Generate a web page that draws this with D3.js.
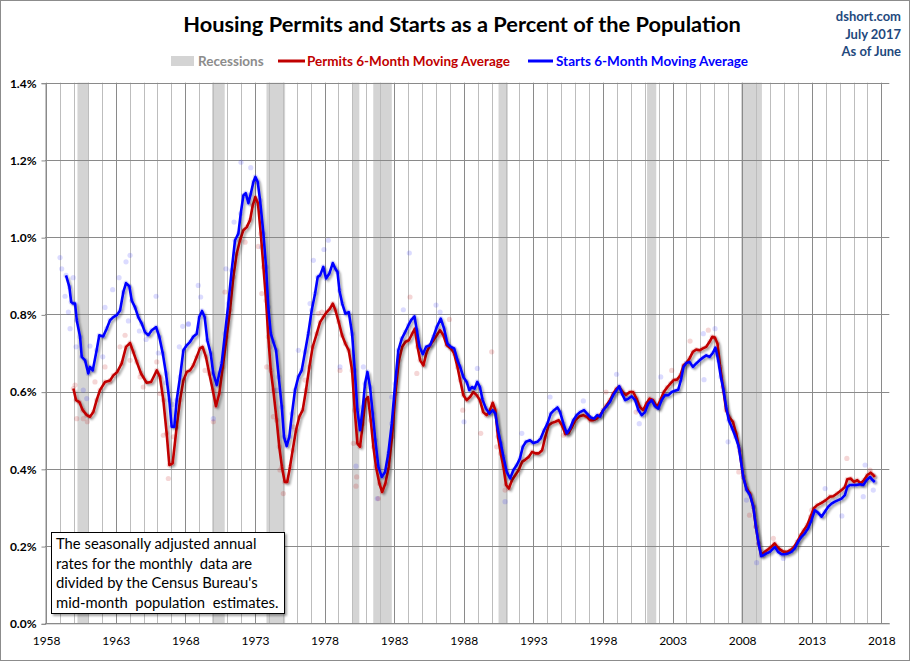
<!DOCTYPE html>
<html>
<head>
<meta charset="utf-8">
<script src="https://d3js.org/d3.v7.min.js"></script>
<style>
  body { margin: 0; background: #fff; }
  svg { display: block; font-family: Lato, "Open Sans", sans-serif; }
</style>
</head>
<body>
<div id="chart"></div>
<script>
// 6-month moving averages, [year, percent of population]
var permitsMA = [
  [1959.96,0.608],[1960.15,0.578],[1960.39,0.573],[1960.63,0.552],[1960.92,0.539],[1961.15,0.535],[1961.39,0.547],[1961.63,0.578],[1961.87,0.604],[1962.23,0.625],[1962.59,0.629],[1962.83,0.642],[1963.11,0.651],[1963.43,0.673],[1963.74,0.716],[1964.03,0.726],[1964.26,0.703],[1964.51,0.677],[1964.82,0.647],[1965.22,0.623],[1965.54,0.625],[1965.95,0.655],[1966.18,0.638],[1966.42,0.578],[1966.66,0.492],[1966.85,0.41],[1967.09,0.414],[1967.38,0.509],[1967.62,0.578],[1967.86,0.629],
  [1968.1,0.651],[1968.34,0.655],[1968.57,0.668],[1968.82,0.69],[1969.05,0.712],[1969.24,0.716],[1969.48,0.69],[1969.72,0.647],[1969.97,0.604],[1970.2,0.562],[1970.44,0.595],[1970.69,0.664],[1970.97,0.742],[1971.21,0.811],[1971.45,0.897],[1971.69,0.957],[1971.93,0.992],[1972.17,1.018],[1972.41,1.026],[1972.65,1.044],[1972.84,1.082],[1973.03,1.104],[1973.22,1.087],[1973.42,1.009],[1973.61,0.923],[1973.8,0.836],[1973.96,0.742],[1974.14,0.655],[1974.32,0.604],[1974.56,0.526],[1974.75,0.457],[1974.94,0.405],[1975.14,0.366],[1975.32,0.366],[1975.52,0.405],[1975.71,0.448],[1975.95,0.5],[1976.19,0.535],[1976.43,0.552],[1976.67,0.604],[1976.91,0.664],[1977.15,0.716],[1977.44,0.75],
  [1977.68,0.78],[1977.91,0.793],[1978.16,0.806],[1978.39,0.815],[1978.59,0.828],[1978.78,0.811],[1979.02,0.78],[1979.26,0.746],[1979.5,0.724],[1979.74,0.707],[1979.98,0.655],[1980.17,0.552],[1980.36,0.466],[1980.55,0.457],[1980.75,0.517],[1980.93,0.578],[1981.12,0.586],[1981.32,0.526],[1981.51,0.457],[1981.7,0.405],[1981.94,0.362],[1982.14,0.34],[1982.37,0.362],[1982.61,0.405],[1982.85,0.483],[1983.09,0.595],[1983.34,0.681],[1983.58,0.716],[1983.82,0.729],[1984.06,0.733],[1984.3,0.75],[1984.49,0.763],[1984.68,0.716],[1984.87,0.681],[1985.1,0.668],[1985.34,0.703],[1985.58,0.72],[1985.82,0.733],[1986.06,0.746],[1986.3,0.759],[1986.54,0.746],[1986.78,0.72],[1987.07,0.712],[1987.31,0.699],[1987.55,0.664],
  [1987.74,0.63],[1987.97,0.591],[1988.21,0.578],[1988.45,0.586],[1988.69,0.599],[1988.93,0.591],[1989.16,0.578],[1989.4,0.547],[1989.64,0.539],[1989.88,0.552],[1990.08,0.571],[1990.27,0.552],[1990.46,0.483],[1990.66,0.44],[1990.85,0.405],[1991.04,0.358],[1991.24,0.349],[1991.47,0.371],[1991.71,0.384],[1991.95,0.397],[1992.19,0.418],[1992.43,0.424],[1992.67,0.431],[1992.91,0.444],[1993.15,0.44],[1993.39,0.44],[1993.63,0.448],[1993.86,0.483],[1994.1,0.513],[1994.34,0.519],[1994.58,0.522],[1994.82,0.526],[1995.06,0.513],[1995.3,0.49],[1995.54,0.493],[1995.78,0.509],[1996.02,0.526],[1996.3,0.536],[1996.59,0.539],[1996.83,0.535],[1997.07,0.526],[1997.31,0.526],[1997.55,0.53],
  [1997.79,0.539],[1998.02,0.552],[1998.26,0.565],[1998.5,0.578],[1998.74,0.595],[1998.98,0.608],[1999.17,0.612],[1999.41,0.599],[1999.65,0.591],[1999.93,0.599],[2000.17,0.599],[2000.41,0.582],[2000.65,0.56],[2000.89,0.552],[2001.12,0.569],[2001.36,0.582],[2001.6,0.578],[2001.89,0.56],[2002.13,0.578],[2002.37,0.599],[2002.61,0.611],[2002.85,0.621],[2003.08,0.63],[2003.32,0.631],[2003.56,0.642],[2003.79,0.668],[2003.99,0.674],[2004.22,0.686],[2004.46,0.703],[2004.7,0.709],[2004.94,0.707],[2005.18,0.712],[2005.42,0.716],[2005.66,0.729],[2005.85,0.742],[2006.04,0.74],[2006.23,0.724],[2006.42,0.664],[2006.62,0.612],[2006.85,0.552],[2007.09,0.533],[2007.33,0.522],[2007.57,0.492],[2007.81,0.448],
  [2008.08,0.379],[2008.32,0.349],[2008.56,0.336],[2008.8,0.302],[2008.99,0.25],[2009.18,0.207],[2009.37,0.177],[2009.61,0.185],[2009.85,0.191],[2010.09,0.198],[2010.33,0.207],[2010.51,0.198],[2010.76,0.19],[2010.99,0.185],[2011.23,0.185],[2011.48,0.19],[2011.71,0.197],[2011.95,0.211],[2012.2,0.228],[2012.43,0.241],[2012.67,0.254],[2012.91,0.276],[2013.15,0.298],[2013.39,0.306],[2013.7,0.312],[2014.01,0.319],[2014.3,0.328],[2014.54,0.329],[2014.82,0.336],[2015.14,0.345],[2015.38,0.353],[2015.55,0.373],[2015.79,0.375],[2016.03,0.366],[2016.27,0.371],[2016.51,0.362],[2016.75,0.371],[2016.99,0.384],[2017.23,0.39],[2017.42,0.384],[2017.53,0.379]
];

var startsMA = [
  [1959.43,0.901],[1959.67,0.871],[1959.8,0.832],[1959.96,0.828],[1960.08,0.828],[1960.2,0.785],[1960.44,0.742],[1960.56,0.69],[1960.8,0.681],[1961.03,0.647],[1961.15,0.664],[1961.35,0.655],[1961.63,0.707],[1961.82,0.746],[1962.1,0.743],[1962.35,0.763],[1962.59,0.785],[1962.83,0.793],[1963.07,0.798],[1963.31,0.81],[1963.55,0.858],[1963.74,0.881],[1963.98,0.873],[1964.15,0.836],[1964.39,0.818],[1964.62,0.793],[1964.87,0.776],[1965.1,0.754],[1965.34,0.746],[1965.59,0.759],[1965.9,0.767],[1966.13,0.742],[1966.38,0.699],[1966.61,0.647],[1966.85,0.578],[1967.02,0.509],[1967.21,0.509],[1967.38,0.578],[1967.62,0.638],[1967.86,0.707],
  [1968.1,0.72],[1968.34,0.729],[1968.57,0.742],[1968.82,0.75],[1969.0,0.793],[1969.2,0.809],[1969.39,0.793],[1969.58,0.733],[1969.82,0.699],[1970.01,0.647],[1970.26,0.617],[1970.44,0.647],[1970.61,0.673],[1970.85,0.75],[1971.09,0.828],[1971.33,0.914],[1971.57,0.992],[1971.81,1.009],[1971.98,1.061],[1972.17,1.108],[1972.34,1.114],[1972.53,1.088],[1972.7,1.112],[1972.89,1.143],[1973.03,1.156],[1973.2,1.143],[1973.37,1.095],[1973.61,1.009],[1973.8,0.923],[1973.96,0.819],[1974.14,0.75],[1974.32,0.729],[1974.52,0.707],[1974.71,0.638],[1974.93,0.56],[1975.09,0.483],[1975.28,0.459],[1975.47,0.483],[1975.66,0.543],[1975.88,0.604],[1976.12,0.638],[1976.36,0.655],[1976.6,0.703],[1976.83,0.75],[1977.08,0.811],[1977.32,0.854],[1977.51,0.897],
  [1977.68,0.901],[1977.91,0.923],[1978.11,0.893],[1978.35,0.906],[1978.59,0.933],[1978.78,0.918],[1978.93,0.91],[1979.07,0.862],[1979.27,0.828],[1979.5,0.802],[1979.74,0.806],[1979.98,0.75],[1980.17,0.655],[1980.36,0.552],[1980.55,0.5],[1980.75,0.56],[1980.91,0.621],[1981.08,0.651],[1981.27,0.612],[1981.46,0.543],[1981.65,0.474],[1981.87,0.405],[1982.11,0.379],[1982.35,0.392],[1982.58,0.44],[1982.83,0.517],[1983.07,0.621],[1983.3,0.707],[1983.55,0.737],[1983.79,0.754],[1984.03,0.772],[1984.22,0.785],[1984.46,0.795],[1984.63,0.759],[1984.82,0.716],[1985.06,0.697],[1985.3,0.716],[1985.58,0.72],[1985.82,0.742],[1986.06,0.767],[1986.35,0.789],[1986.59,0.763],[1986.83,0.724],[1987.07,0.716],[1987.31,0.712],[1987.55,0.681],
  [1987.74,0.664],[1987.97,0.638],[1988.21,0.625],[1988.4,0.604],[1988.59,0.612],[1988.78,0.608],[1988.97,0.625],[1989.16,0.612],[1989.36,0.578],[1989.6,0.556],[1989.84,0.543],[1990.08,0.552],[1990.27,0.543],[1990.46,0.5],[1990.66,0.466],[1990.85,0.431],[1991.09,0.392],[1991.33,0.375],[1991.57,0.397],[1991.81,0.41],[1992.04,0.427],[1992.24,0.457],[1992.47,0.47],[1992.76,0.474],[1993.0,0.467],[1993.29,0.47],[1993.53,0.479],[1993.77,0.5],[1994.01,0.517],[1994.25,0.543],[1994.49,0.552],[1994.73,0.559],[1994.92,0.547],[1995.16,0.517],[1995.4,0.492],[1995.64,0.505],[1995.87,0.526],[1996.11,0.539],[1996.35,0.547],[1996.64,0.552],[1996.88,0.542],[1997.12,0.533],[1997.36,0.53],[1997.59,0.539],
  [1997.79,0.535],[1998.02,0.552],[1998.26,0.562],[1998.5,0.573],[1998.74,0.591],[1998.98,0.604],[1999.17,0.614],[1999.36,0.595],[1999.6,0.578],[1999.84,0.582],[2000.07,0.588],[2000.31,0.578],[2000.55,0.552],[2000.79,0.539],[2001.02,0.547],[2001.26,0.569],[2001.5,0.578],[2001.74,0.562],[2001.98,0.556],[2002.22,0.578],[2002.46,0.591],[2002.7,0.591],[2002.94,0.599],[2003.17,0.602],[2003.41,0.605],[2003.6,0.63],[2003.79,0.664],[2003.99,0.674],[2004.22,0.677],[2004.46,0.664],[2004.7,0.673],[2004.94,0.681],[2005.18,0.688],[2005.42,0.694],[2005.66,0.69],[2005.89,0.7],[2006.08,0.714],[2006.28,0.681],[2006.47,0.638],[2006.66,0.604],[2006.85,0.56],[2007.04,0.526],[2007.28,0.505],[2007.52,0.483],[2007.76,0.457],
  [2008.08,0.379],[2008.32,0.345],[2008.56,0.332],[2008.8,0.302],[2008.99,0.25],[2009.18,0.207],[2009.37,0.174],[2009.56,0.177],[2009.75,0.181],[2009.99,0.185],[2010.23,0.194],[2010.37,0.197],[2010.58,0.185],[2010.83,0.179],[2011.06,0.179],[2011.3,0.181],[2011.54,0.185],[2011.78,0.194],[2012.02,0.211],[2012.26,0.224],[2012.5,0.233],[2012.74,0.246],[2012.98,0.267],[2013.22,0.293],[2013.46,0.286],[2013.7,0.276],[2013.94,0.289],[2014.18,0.302],[2014.42,0.31],[2014.66,0.315],[2014.9,0.319],[2015.14,0.323],[2015.38,0.332],[2015.55,0.353],[2015.74,0.358],[2015.98,0.358],[2016.22,0.358],[2016.46,0.36],[2016.7,0.358],[2016.94,0.371],[2017.18,0.379],[2017.37,0.371],[2017.53,0.366]
];

// monthly readings that stray from the averages
var permitsMonthly = [
  [1960.08,0.617],[1960.2,0.53],[1960.67,0.53],[1960.96,0.522],[1961.51,0.625],[1962.23,0.664],[1962.59,0.625],[1963.31,0.716],[1963.67,0.746],[1964.03,0.681],[1964.75,0.638],[1964.98,0.612],[1965.95,0.677],[1966.18,0.595],[1966.42,0.487],[1966.78,0.375],[1967.14,0.483],
  [1969.42,0.655],[1970.01,0.522],[1970.85,0.858],[1972.29,0.987],[1973.24,0.976],[1973.49,0.854],[1973.85,0.664],[1974.32,0.535],[1974.8,0.397],[1975.04,0.336],[1975.76,0.509],[1976.6,0.63],[1977.56,0.802],[1977.8,0.806],
  [1984.14,0.845],[1980.07,0.466],[1980.31,0.379],[1980.26,0.355],[1981.87,0.323],[1979.11,0.655],[1984.63,0.647],[1987.93,0.552],[1986.97,0.787],
  [1990.01,0.703],[1990.97,0.345],[1989.22,0.492],[1990.37,0.457],[1995.16,0.487],[1998.22,0.599],
  [2004.26,0.731],[2005.57,0.759],[2002.94,0.655],[2000.38,0.547],[2007.76,0.392],[2008.53,0.28],
  [2015.52,0.427],[2010.24,0.22],[2017.19,0.397],[2013.0,0.293]
];

var startsMonthly = [
  [1959.0,0.947],[1959.12,0.918],[1959.36,0.847],[1959.6,0.806],[1959.72,0.763],[1959.95,0.895],[1960.15,0.716],[1960.67,0.604],[1960.92,0.582],[1961.15,0.718],[1962.07,0.69],[1962.23,0.818],[1962.78,0.864],[1963.24,0.895],[1963.74,0.936],[1964.03,0.953],[1963.91,0.783],[1964.7,0.757],[1965.18,0.735],[1965.9,0.847],[1966.06,0.7],[1966.61,0.623],[1967.09,0.567],[1967.57,0.716],[1967.81,0.769],[1968.22,0.774],
  [1968.22,0.776],[1968.93,0.875],[1969.1,0.845],[1970.01,0.53],[1970.92,0.918],[1971.5,1.039],[1972.0,1.194],[1972.7,1.18],[1973.49,0.974],[1974.09,0.716],[1974.57,0.604],[1975.23,0.474],[1976.12,0.707],[1976.96,0.828],[1977.2,0.94],[1977.96,0.968],[1978.27,0.992],
  [1984.09,0.959],[1983.66,0.812],[1986.01,0.824],[1986.3,0.806],[1980.79,0.664],[1980.26,0.407],[1982.83,0.586],[1981.79,0.323],[1988.02,0.522],[1979.11,0.664],
  [1990.97,0.315],[1992.17,0.492],[1994.2,0.586],[1996.59,0.576],[1988.98,0.66],
  [1998.98,0.645],[2000.61,0.517],[2002.15,0.638],[2005.21,0.75],[2006.05,0.763],[2005.26,0.631],[2006.99,0.47],[2008.31,0.319],
  [2009.04,0.157],[2010.96,0.168],[2013.96,0.349],[2015.16,0.278],[2016.83,0.41],[2016.7,0.328],[2017.42,0.345]
];

// NBER recessions, [start, end] in years
var recessions = [
  [1960.25,1961.08],[1969.92,1970.83],[1973.83,1975.17],[1980.0,1980.5],
  [1981.5,1982.83],[1990.5,1991.17],[2001.17,2001.83],[2007.92,2009.42]
];

var yTicks = [0, 0.2, 0.4, 0.6, 0.8, 1.0, 1.2, 1.4];
var xTickYears = [1958, 1963, 1968, 1973, 1978, 1983, 1988, 1993, 1998, 2003, 2008, 2013, 2018];

var noteLines = [
  "The seasonally adjusted annual",
  "rates for the monthly  data are",
  "divided by the Census Bureau's",
  "mid-month  population  estimates."
];

var svgWidth = 910;
var svgHeight = 661;

var plot = { left: 45, right: 889.3, top: 82.7, bottom: 623.3 };

var svg = d3.select("#chart")
  .append("svg")
  .attr("width", svgWidth)
  .attr("height", svgHeight);

var defs = svg.append("defs");
var shadow = defs.append("filter")
  .attr("id", "shadow")
  .attr("x", "-5%").attr("y", "-5%")
  .attr("width", "110%").attr("height", "110%");
shadow.append("feDropShadow")
  .attr("dx", 2).attr("dy", 2)
  .attr("stdDeviation", 1.3)
  .attr("flood-color", "#000")
  .attr("flood-opacity", 0.35);

// outer frame
svg.append("rect")
  .attr("x", 0.5).attr("y", 0.5)
  .attr("width", svgWidth - 1).attr("height", svgHeight - 1)
  .attr("fill", "#fff")
  .attr("stroke", "#8c8c8c");

var xScale = d3.scaleLinear()
  .domain([1957.92, 2018.57])
  .range([plot.left, plot.right]);

var yScale = d3.scaleLinear()
  .domain([0, 1.4])
  .range([plot.bottom, plot.top]);

// recession bands
svg.append("g").selectAll("rect")
  .data(recessions)
  .enter()
  .append("rect")
  .attr("x", d => xScale(d[0]))
  .attr("y", plot.top)
  .attr("width", d => xScale(d[1]) - xScale(d[0]))
  .attr("height", plot.bottom - plot.top)
  .attr("fill", "#d4d4d4");

// vertical year gridlines
var years = d3.range(1958, 2019);
svg.append("g").selectAll("line")
  .data(years)
  .enter()
  .append("line")
  .attr("x1", d => Math.round(xScale(d)) + 0.5)
  .attr("x2", d => Math.round(xScale(d)) + 0.5)
  .attr("y1", plot.top)
  .attr("y2", plot.bottom)
  .attr("stroke", d => (d - 1958) % 5 === 0 ? "#8a8a8a" : "#bdbdbd")
  .attr("stroke-width", 1);

// horizontal gridlines
svg.append("g").selectAll("line")
  .data(yTicks)
  .enter()
  .append("line")
  .attr("x1", plot.left)
  .attr("x2", plot.right)
  .attr("y1", d => Math.round(yScale(d)) + 0.5)
  .attr("y2", d => Math.round(yScale(d)) + 0.5)
  .attr("stroke", "#8a8a8a");

// y axis
var yAxis = d3.axisLeft(yScale)
  .tickValues(yTicks)
  .tickSize(4)
  .tickPadding(5)
  .tickFormat(d => d.toFixed(1) + "%");

var yAxisG = svg.append("g")
  .attr("transform", `translate(${plot.left + 0.5}, 0.5)`)
  .call(yAxis);
yAxisG.select(".domain").attr("stroke", "#8a8a8a");
yAxisG.selectAll(".tick line").attr("stroke", "#8a8a8a");
yAxisG.selectAll("text")
  .attr("font-family", "Lato, sans-serif")
  .attr("font-size", "12px")
  .attr("font-weight", "bold")
  .attr("fill", "#000");

// x axis
var xAxis = d3.axisBottom(xScale)
  .tickValues(xTickYears)
  .tickSize(0)
  .tickPadding(13)
  .tickFormat(d3.format("d"));

var xAxisG = svg.append("g")
  .attr("transform", `translate(0, ${plot.bottom})`)
  .call(xAxis);
xAxisG.select(".domain").attr("stroke", "#8a8a8a");
xAxisG.selectAll("text")
  .attr("font-family", "Lato, sans-serif")
  .attr("font-size", "12px")
  .attr("fill", "#000");

// monthly dots
var dotGroup = svg.append("g");
dotGroup.selectAll(".pdot")
  .data(permitsMonthly.concat(permitsMA))
  .enter()
  .append("circle")
  .attr("class", "pdot")
  .attr("cx", d => xScale(d[0]))
  .attr("cy", d => yScale(d[1]))
  .attr("r", 2.6)
  .attr("fill", "#c00000")
  .attr("opacity", 0.16);

dotGroup.selectAll(".sdot")
  .data(startsMonthly.concat(startsMA))
  .enter()
  .append("circle")
  .attr("class", "sdot")
  .attr("cx", d => xScale(d[0]))
  .attr("cy", d => yScale(d[1]))
  .attr("r", 2.6)
  .attr("fill", "#0000ff")
  .attr("opacity", 0.14);

// moving average lines
var line = d3.line()
  .x(d => xScale(d[0]))
  .y(d => yScale(d[1]));

svg.append("path")
  .datum(permitsMA)
  .attr("d", line)
  .attr("fill", "none")
  .attr("stroke", "#c00000")
  .attr("stroke-width", 2.6)
  .attr("stroke-linejoin", "round")
  .attr("filter", "url(#shadow)");

svg.append("path")
  .datum(startsMA)
  .attr("d", line)
  .attr("fill", "none")
  .attr("stroke", "#0000ff")
  .attr("stroke-width", 2.6)
  .attr("stroke-linejoin", "round")
  .attr("filter", "url(#shadow)");

// title
svg.append("text")
  .attr("x", 462)
  .attr("y", 32)
  .attr("text-anchor", "middle")
  .attr("font-family", "Lato, sans-serif")
  .attr("font-size", "21.8px")
  .attr("font-weight", "bold")
  .attr("fill", "#000")
  .text("Housing Permits and Starts as a Percent of the Population");

// source notes, top right
var sourceLines = ["dshort.com", "July 2017", "As of June"];
svg.append("g").selectAll("text")
  .data(sourceLines)
  .enter()
  .append("text")
  .attr("x", 901)
  .attr("y", (d, i) => 21 + i * 17.5)
  .attr("text-anchor", "end")
  .attr("font-family", "Lato, sans-serif")
  .attr("font-size", "13px")
  .attr("font-weight", "bold")
  .attr("fill", "#1f497d")
  .text(d => d);

// legend
var legend = svg.append("g").attr("font-family", "Lato, sans-serif")
  .attr("font-size", "13.5px").attr("font-weight", "bold");
legend.append("rect")
  .attr("x", 171).attr("y", 56).attr("width", 23).attr("height", 10)
  .attr("fill", "#d4d4d4");
legend.append("text")
  .attr("x", 198).attr("y", 66).attr("fill", "#8c8c8c").text("Recessions");
legend.append("line")
  .attr("x1", 278).attr("x2", 305).attr("y1", 61).attr("y2", 61)
  .attr("stroke", "#c00000").attr("stroke-width", 3);
legend.append("text")
  .attr("x", 307).attr("y", 66).attr("fill", "#c00000").text("Permits 6-Month Moving Average");
legend.append("line")
  .attr("x1", 528).attr("x2", 553).attr("y1", 61).attr("y2", 61)
  .attr("stroke", "#0000ff").attr("stroke-width", 3);
legend.append("text")
  .attr("x", 556).attr("y", 66).attr("fill", "#0000ff").text("Starts 6-Month Moving Average");

// note box
var note = svg.append("g");
note.append("rect")
  .attr("x", 51.5).attr("y", 532.5)
  .attr("width", 233).attr("height", 81)
  .attr("fill", "#fff")
  .attr("stroke", "#000")
  .attr("filter", "url(#shadow)");
note.selectAll("text")
  .data(noteLines)
  .enter()
  .append("text")
  .attr("x", 56)
  .attr("y", (d, i) => 549 + i * 19.5)
  .attr("font-family", "Lato, sans-serif")
  .attr("font-size", "14.8px")
  .attr("fill", "#000")
  .attr("xml:space", "preserve")
  .style("white-space", "pre")
  .text(d => d);
</script>
</body>
</html>
